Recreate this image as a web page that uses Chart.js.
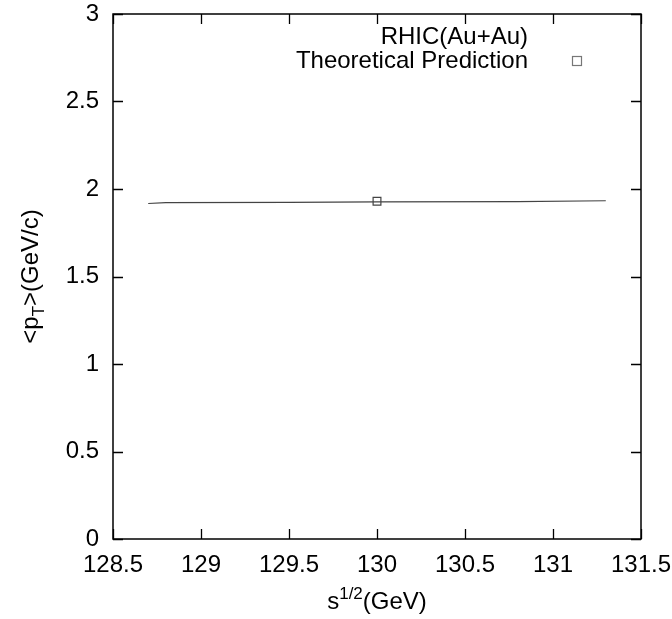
<!DOCTYPE html>
<html>
<head>
<meta charset="utf-8">
<script src="https://cdn.jsdelivr.net/npm/chart.js@4/dist/chart.umd.min.js"></script>
<style>
  html, body { margin: 0; padding: 0; background: #fff; }
  #wrap { width: 672px; height: 619px; }
</style>
</head>
<body>
<div id="wrap"><canvas id="c" width="672" height="619"></canvas></div>
<script>
// ---- data ----
const curveX = [128.7, 128.8, 129.5, 130.0, 130.8, 131.3];
const curveY = [1.917, 1.922, 1.924, 1.926, 1.928, 1.933];
const rhicX = [130.0];
const rhicY = [1.93];
const xTicks = [128.5, 129, 129.5, 130, 130.5, 131, 131.5];
const yTicks = [0, 0.5, 1, 1.5, 2, 2.5, 3];
const xTickLabels = ["128.5", "129", "129.5", "130", "130.5", "131", "131.5"];
const yTickLabels = ["0", "0.5", "1", "1.5", "2", "2.5", "3"];
const legendTitle = "RHIC(Au+Au)";
const legendLabel = "Theoretical Prediction";

const FONT = '"Liberation Sans", Arial, Helvetica, sans-serif';
const FS = 24;

const curveData = curveX.map((x, i) => ({ x: x, y: curveY[i] }));
const rhicData = rhicX.map((x, i) => ({ x: x, y: rhicY[i] }));

const framePlugin = {
  id: 'frame',
  afterDraw(chart) {
    const ctx = chart.ctx;
    const a = chart.chartArea;
    const xs = chart.scales.x, ys = chart.scales.y;
    ctx.save();
    ctx.strokeStyle = '#000';
    ctx.lineWidth = 1.5;
    ctx.strokeRect(a.left, a.top, a.right - a.left, a.bottom - a.top);
    ctx.lineWidth = 1.3;
    const TL = 10;
    ctx.beginPath();
    xTicks.forEach(v => {
      const px = Math.round(xs.getPixelForValue(v)) + 0.5;
      ctx.moveTo(px, a.bottom); ctx.lineTo(px, a.bottom - TL);
      ctx.moveTo(px, a.top); ctx.lineTo(px, a.top + TL);
    });
    yTicks.forEach(v => {
      const py = Math.round(ys.getPixelForValue(v)) + 0.5;
      ctx.moveTo(a.left, py); ctx.lineTo(a.left + TL, py);
      ctx.moveTo(a.right, py); ctx.lineTo(a.right - TL, py);
    });
    ctx.stroke();

    // axis titles with sub/superscripts
    ctx.fillStyle = '#000';
    ctx.textBaseline = 'alphabetic';
    const f = FS + 'px ' + FONT, fs = Math.round(FS * 0.72) + 'px ' + FONT;
    ctx.font = f; const w1 = ctx.measureText('s').width;
    ctx.font = fs; const w2 = ctx.measureText('1/2').width;
    ctx.font = f; const w3 = ctx.measureText('(GeV)').width;
    const xc = (a.left + a.right) / 2;
    let x0 = xc - (w1 + w2 + w3) / 2;
    const yb = 609;
    ctx.textAlign = 'left';
    ctx.font = f; ctx.fillText('s', x0, yb);
    ctx.font = fs; ctx.fillText('1/2', x0 + w1, yb - 10);
    ctx.font = f; ctx.fillText('(GeV)', x0 + w1 + w2, yb);

    ctx.save();
    const yc = (a.top + a.bottom) / 2;
    ctx.translate(38, yc);
    ctx.rotate(-Math.PI / 2);
    ctx.font = f; const a1 = ctx.measureText('<p').width;
    ctx.font = fs; const a2 = ctx.measureText('T').width;
    ctx.font = f; const a3 = ctx.measureText('>(GeV/c)').width;
    let y0 = -(a1 + a2 + a3) / 2;
    ctx.font = f; ctx.fillText('<p', y0, 0);
    ctx.font = fs; ctx.fillText('T', y0 + a1, 6);
    ctx.font = f; ctx.fillText('>(GeV/c)', y0 + a1 + a2, 0);
    ctx.restore();

    // legend
    ctx.font = f;
    ctx.textAlign = 'right';
    ctx.textBaseline = 'middle';
    ctx.fillText(legendTitle, 528, 37);
    ctx.fillText(legendLabel, 528, 61);
    ctx.strokeStyle = '#777';
    ctx.lineWidth = 1.2;
    ctx.strokeRect(572.5, 56.5, 9, 9);
    ctx.restore();
  }
};

new Chart(document.getElementById('c'), {
  type: 'scatter',
  data: {
    datasets: [
      {
        type: 'line',
        data: curveData,
        borderColor: '#444',
        borderWidth: 1.2,
        pointRadius: 0,
        fill: false,
        tension: 0
      },
      {
        type: 'scatter',
        data: rhicData,
        pointStyle: 'rect',
        pointRadius: 5.5,
        pointBorderWidth: 1.2,
        pointBorderColor: '#444',
        pointBackgroundColor: 'rgba(0,0,0,0)'
      }
    ]
  },
  options: {
    responsive: false,
    animation: false,
    devicePixelRatio: 1,
    layout: { padding: { left: 0, right: 31, top: 14, bottom: 0 } },
    plugins: { legend: { display: false }, tooltip: { enabled: false } },
    scales: {
      x: {
        type: 'linear',
        min: 128.5, max: 131.5,
        afterFit(s) { s.height = 80; s.paddingLeft = 0; s.paddingRight = 0; },
        afterBuildTicks(s) { s.ticks = xTicks.map(v => ({ value: v })); },
        grid: { display: false, drawTicks: false },
        border: { display: false },
        ticks: {
          color: '#000',
          padding: 12,
          maxRotation: 0,
          autoSkip: false,
          font: { family: FONT, size: FS },
          callback: (v) => xTickLabels[xTicks.indexOf(v)]
        }
      },
      y: {
        type: 'linear',
        min: 0, max: 3,
        afterFit(s) { s.width = 113; s.paddingTop = 0; s.paddingBottom = 0; },
        afterBuildTicks(s) { s.ticks = yTicks.map(v => ({ value: v })); },
        grid: { display: false, drawTicks: false },
        border: { display: false },
        ticks: {
          color: '#000',
          padding: 14,
          autoSkip: false,
          font: { family: FONT, size: FS },
          callback: (v) => yTickLabels[yTicks.indexOf(v)]
        }
      }
    }
  },
  plugins: [framePlugin]
});
</script>
</body>
</html>
